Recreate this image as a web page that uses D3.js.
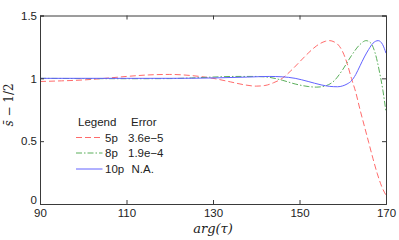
<!DOCTYPE html>
<html>
<head>
<meta charset="utf-8">
<script src="https://cdn.jsdelivr.net/npm/d3@7/dist/d3.min.js"></script>
<style>
html,body{margin:0;padding:0;background:#fff;}
svg{display:block;}
text{font-family:"Liberation Sans",Arial,sans-serif;}
</style>
</head>
<body>
<svg id="chart" width="399" height="240"></svg>
<script>
// ---- data ----
const xTicks = [90, 110, 130, 150, 170];
const yTicks = [0, 0.5, 1, 1.5];
const yTickLabels = ["0", "0.5", "1", "1.5"];

const x5p = [90,95,100,105,110,115,120,125,130,134,137,140,142,144,146,148,150,152,154,156,157,158,159,160,161,162,163,164,165,166,167,168,169,170];
const y5p = [0.975,0.98,0.987,1.0,1.015,1.027,1.031,1.022,1.0,0.972,0.95,0.938,0.943,0.965,1.0,1.06,1.13,1.2,1.26,1.295,1.3,1.29,1.265,1.21,1.12,1.0,0.89,0.75,0.62,0.49,0.36,0.24,0.14,0.07];

const x8p = [90,100,110,120,125,130,135,140,143,146,149,152,154,156,158,160,162,164,165.4,166.5,167.5,168.5,169.3,170];
const y8p = [1.0,0.998,0.997,0.998,1.003,1.01,1.015,1.015,1.008,0.985,0.955,0.935,0.93,0.94,0.98,1.07,1.18,1.27,1.3,1.28,1.2,1.05,0.9,0.73];

const x10p = [90,100,110,120,130,138,143,146,149,152,155,157,158.8,160,161,162,163,164,165,166,167,168.2,169.2,170];
const y10p = [1.0,1.0,1.0,1.0,1.003,1.01,1.015,1.012,1.0,0.975,0.948,0.936,0.933,0.94,0.955,0.98,1.03,1.1,1.17,1.23,1.28,1.3,1.27,1.2];

const seriesNames = ["5p", "8p", "10p"];
const seriesErrors = ["3.6e\u22125", "1.9e\u22124", "N.A."];
const seriesColors = ["#ff6b6b", "#5aae5a", "#6262ff"];
const seriesDash = ["6,3", "6,2,1.5,2", null];

// ---- layout ----
const svg = d3.select("#chart");
const L = 40, R = 386, T = 15.5, B = 204;
const x = d3.scaleLinear().domain([90, 170]).range([L, R]);
const y = d3.scaleLinear().domain([0, 1.5]).range([B, T]);
const axisColor = "#3a3a3a";

svg.append("clipPath").attr("id", "clip")
  .append("rect").attr("x", L).attr("y", T).attr("width", R - L).attr("height", B - T);

const series = [
  {xs: x5p, ys: y5p},
  {xs: x8p, ys: y8p},
  {xs: x10p, ys: y10p}
];

const line = d3.line().x(d => x(d[0])).y(d => y(d[1])).curve(d3.curveMonotoneX);

const g = svg.append("g").attr("clip-path", "url(#clip)");
series.forEach((s, i) => {
  const pts = s.xs.map((v, k) => [v, s.ys[k]]);
  g.append("path").attr("d", line(pts))
    .attr("fill", "none")
    .attr("stroke", seriesColors[i])
    .attr("stroke-width", 1)
    .attr("stroke-dasharray", seriesDash[i]);
});

// axes (inward ticks, box)
const xb = svg.append("g").attr("transform", `translate(0,${B})`)
  .call(d3.axisBottom(x).tickValues(xTicks).tickSize(-4).tickPadding(5).tickFormat(d => String(d)));
const xt = svg.append("g").attr("transform", `translate(0,${T})`)
  .call(d3.axisTop(x).tickValues(xTicks).tickSize(-4).tickFormat(""));
const yl = svg.append("g").attr("transform", `translate(${L},0)`)
  .call(d3.axisLeft(y).tickValues(yTicks).tickSize(-4).tickPadding(3).tickFormat((d, i) => yTickLabels[i]));
const yr = svg.append("g").attr("transform", `translate(${R},0)`)
  .call(d3.axisRight(y).tickValues(yTicks).tickSize(-4).tickFormat(""));

[xb, xt, yl, yr].forEach(a => {
  a.select(".domain").attr("stroke", axisColor).attr("stroke-width", 1);
  a.selectAll(".tick line").attr("stroke", axisColor);
  a.selectAll(".tick text").attr("fill", "#222").style("font-size", "11.5px")
    .style("font-family", "'Liberation Sans', Arial, sans-serif");
});
xb.selectAll(".tick text").attr("dy", "0.71em");
yl.selectAll(".tick text").filter(d => d === 0).attr("dy", "-0.05em");

// axis labels
svg.append("text")
  .attr("x", 213).attr("y", 233)
  .attr("text-anchor", "middle")
  .style("font-family", "'DejaVu Serif','Liberation Serif',serif")
  .style("font-style", "italic")
  .style("font-size", "13px")
  .attr("fill", "#222")
  .text("arg(\u03C4)");

const ylab = svg.append("text")
  .attr("transform", "translate(13,105) rotate(-90)")
  .attr("text-anchor", "middle")
  .style("font-family", "'DejaVu Serif','Liberation Serif',serif")
  .style("font-size", "12px")
  .attr("fill", "#222");
ylab.append("tspan").style("font-style", "italic").text("s\u0304");
ylab.append("tspan").text(" \u2212 1/2");

// legend
const lg = svg.append("g");
const fs = "11.5px";
lg.append("text").attr("x", 78).attr("y", 126).style("font-size", fs).attr("fill", "#222").text("Legend");
lg.append("text").attr("x", 131).attr("y", 126).style("font-size", fs).attr("fill", "#222").text("Error");
const rowY = [137.5, 153, 169];
seriesNames.forEach((n, i) => {
  lg.append("line").attr("x1", 76).attr("x2", 102.5)
    .attr("y1", rowY[i]).attr("y2", rowY[i])
    .attr("stroke", seriesColors[i]).attr("stroke-width", 1)
    .attr("stroke-dasharray", seriesDash[i]);
  lg.append("text").attr("x", 105).attr("y", rowY[i] + 4).style("font-size", fs).attr("fill", "#222").text(n);
  lg.append("text").attr("x", i === 2 ? 131.5 : 128).attr("y", rowY[i] + 4).style("font-size", fs).attr("fill", "#222").text(seriesErrors[i]);
});
</script>
</body>
</html>
